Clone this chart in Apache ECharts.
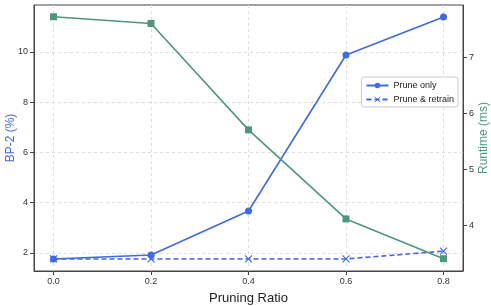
<!DOCTYPE html>
<html><head><meta charset="utf-8">
<script src="https://cdn.jsdelivr.net/npm/echarts@6/dist/echarts.min.js"></script>
<style>html,body{margin:0;padding:0;background:#fff}#c{width:491px;height:306px}</style>
</head><body><div id="c"></div>
<script>
const ratios = [0.0, 0.2, 0.4, 0.6, 0.8];
const pruneOnly = [1.76, 1.92, 3.67, 9.88, 11.39];
const pruneRetrain = [1.76, 1.76, 1.76, 1.76, 2.07];
const runtime = [7.72, 7.60, 5.70, 4.11, 3.40];
const xTicks = [0, 0.2, 0.4, 0.6, 0.8];
const leftTicks = [2, 4, 6, 8, 10];
const rightTicks = [4, 5, 6, 7];

const BLUE = '#4169E1', GREEN = '#4f977c';
const font = 'Liberation Sans';
const chart = echarts.init(document.getElementById('c'));
const crossPath = 'path://M0,0L10,10M10,0L0,10';
chart.setOption({
  animation: false,
  textStyle: {fontFamily: font},
  grid: {left: 34, right: 28, top: 5, bottom: 35, show: true, borderColor: '#444', borderWidth: 1,
         containLabel: false, outerBoundsMode: 'none'},
  legend: {
    right: 33, top: 77, orient: 'vertical', itemWidth: 22, itemHeight: 7, itemGap: 5, itemStyle: {borderWidth: 0.8},
    backgroundColor: '#fff', borderColor: '#ccc', borderWidth: 1, borderRadius: 3, padding: [4, 4, 3, 4],
    textStyle: {fontSize: 9, color: '#222', fontFamily: font},
    data: ['Prune only', 'Prune & retrain']
  },
  xAxis: {
    type: 'value', min: -0.04, max: 0.84,
    name: 'Pruning Ratio', nameLocation: 'middle', nameGap: 21, nameMoveOverlap: false,
    nameTextStyle: {fontSize: 13, color: '#222', fontFamily: font},
    axisLine: {show: true, onZero: false, lineStyle: {color: '#444'}},
    axisTick: {show: true, length: 4, customValues: xTicks, lineStyle: {color: '#444'}},
    axisLabel: {customValues: xTicks, fontSize: 9, color: '#333', margin: 6, formatter: v => v.toFixed(1)},
    splitLine: {show: true, lineStyle: {color: '#ddd', type: [3, 3]}}
  },
  yAxis: [{
    type: 'value', min: 1.28, max: 11.87, position: 'left',
    name: 'BP-2 (%)', nameLocation: 'middle', nameGap: 17, nameRotate: 90, nameMoveOverlap: false,
    nameTextStyle: {fontSize: 12, color: BLUE, fontFamily: font},
    axisLine: {show: true, onZero: false, lineStyle: {color: '#444'}},
    axisTick: {show: true, length: 4, customValues: leftTicks, lineStyle: {color: '#444'}},
    axisLabel: {customValues: leftTicks, fontSize: 9, color: '#333', margin: 6},
    splitLine: {show: true, lineStyle: {color: '#ddd', type: [3, 3]}}
  }, {
    type: 'value', min: 3.18, max: 7.93, position: 'right',
    name: 'Runtime (ms)', nameLocation: 'middle', nameGap: 15, nameRotate: 90, nameMoveOverlap: false,
    nameTextStyle: {fontSize: 12, color: GREEN, fontFamily: font},
    axisLine: {show: true, onZero: false, lineStyle: {color: '#444'}},
    axisTick: {show: true, length: 4, customValues: rightTicks, lineStyle: {color: '#444'}},
    axisLabel: {customValues: rightTicks, fontSize: 9, color: '#333', margin: 6},
    splitLine: {show: false}
  }],
  series: [{
    name: 'Prune only', type: 'line', yAxisIndex: 0,
    data: ratios.map((r, i) => [r, pruneOnly[i]]),
    symbol: 'circle', symbolSize: 7,
    lineStyle: {color: BLUE, width: 1.6}, itemStyle: {color: BLUE}
  }, {
    name: 'Prune & retrain', type: 'line', yAxisIndex: 0,
    data: ratios.map((r, i) => [r, pruneRetrain[i]]),
    symbol: crossPath, symbolSize: 7,
    lineStyle: {color: BLUE, width: 1.6, type: [5, 3]},
    itemStyle: {color: BLUE, borderColor: BLUE, borderWidth: 1.1}
  }, {
    name: 'Runtime', type: 'line', yAxisIndex: 1,
    data: ratios.map((r, i) => [r, runtime[i]]),
    symbol: 'rect', symbolSize: 7,
    lineStyle: {color: GREEN, width: 1.6}, itemStyle: {color: GREEN}
  }]
});
</script></body></html>
